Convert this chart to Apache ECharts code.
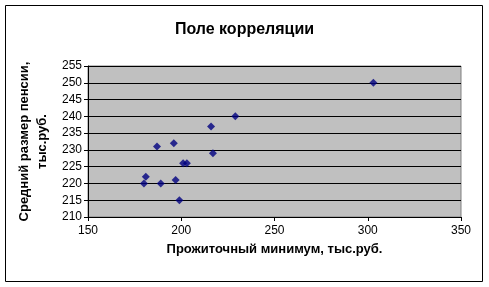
<!DOCTYPE html>
<html><head><meta charset="utf-8">
<script src="https://cdn.jsdelivr.net/npm/echarts@6/dist/echarts.min.js"></script>
<style>html,body{margin:0;padding:0;background:#fff}#c{width:489px;height:287px}</style>
</head><body><div id="c"></div>
<script>
const title = 'Поле корреляции';
const xTitle = 'Прожиточный минимум, тыс.руб.';
const yTitle = 'Средний размер пенсии,\nтыс.руб.';
const xValues = [303, 229, 216, 217, 201, 203, 196, 187, 181, 180, 189, 197, 199];
const yValues = [250, 240, 237, 229, 226, 226, 232, 231, 222, 220, 220, 221, 215];
const points = xValues.map((x, i) => [x, yValues[i]]);
const chart = echarts.init(document.getElementById('c'));
const font = 'Liberation Sans, Arial, sans-serif';
chart.setOption({
  animation: false,
  graphic: [{type:'rect', shape:{x:5.5,y:5.5,width:477,height:276}, style:{fill:null, stroke:'#000', lineWidth:1}, z:-10}],
  title: {text: title, left: 'center', top: 17, textStyle: {fontFamily: font, fontSize: 16, fontWeight: 'bold', color: '#000'}},
  grid: {left: 88, right: 28, top: 66, bottom: 70, show: true, backgroundColor: '#C0C0C0', borderColor: '#808080', borderWidth: 1},
  xAxis: {type: 'value', min: 150, max: 350, interval: 50,
    name: xTitle, nameLocation: 'middle', nameGap: 26,
    nameTextStyle: {fontFamily: font, fontSize: 13, fontWeight: 'bold', color: '#000'},
    axisLine: {show: true, lineStyle: {color: '#000'}},
    axisTick: {show: true, length: 4, lineStyle: {color: '#000'}},
    axisLabel: {fontFamily: font, fontSize: 12, color: '#000', margin: 8},
    splitLine: {show: false}},
  yAxis: {type: 'value', min: 210, max: 255, interval: 5,
    name: yTitle, nameLocation: 'middle', nameGap: 37, nameRotate: 90,
    nameTextStyle: {fontFamily: font, fontSize: 13, fontWeight: 'bold', color: '#000', lineHeight: 18},
    axisLine: {show: true, lineStyle: {color: '#000'}},
    axisTick: {show: true, length: 4, lineStyle: {color: '#000'}},
    axisLabel: {fontFamily: font, fontSize: 12, color: '#000', margin: 6},
    splitLine: {show: true, lineStyle: {color: '#000', width: 1}}},
  series: [{type: 'scatter', data: points, symbol: 'diamond', symbolSize: 8,
    itemStyle: {color: '#000080'}}]
});
</script></body></html>
